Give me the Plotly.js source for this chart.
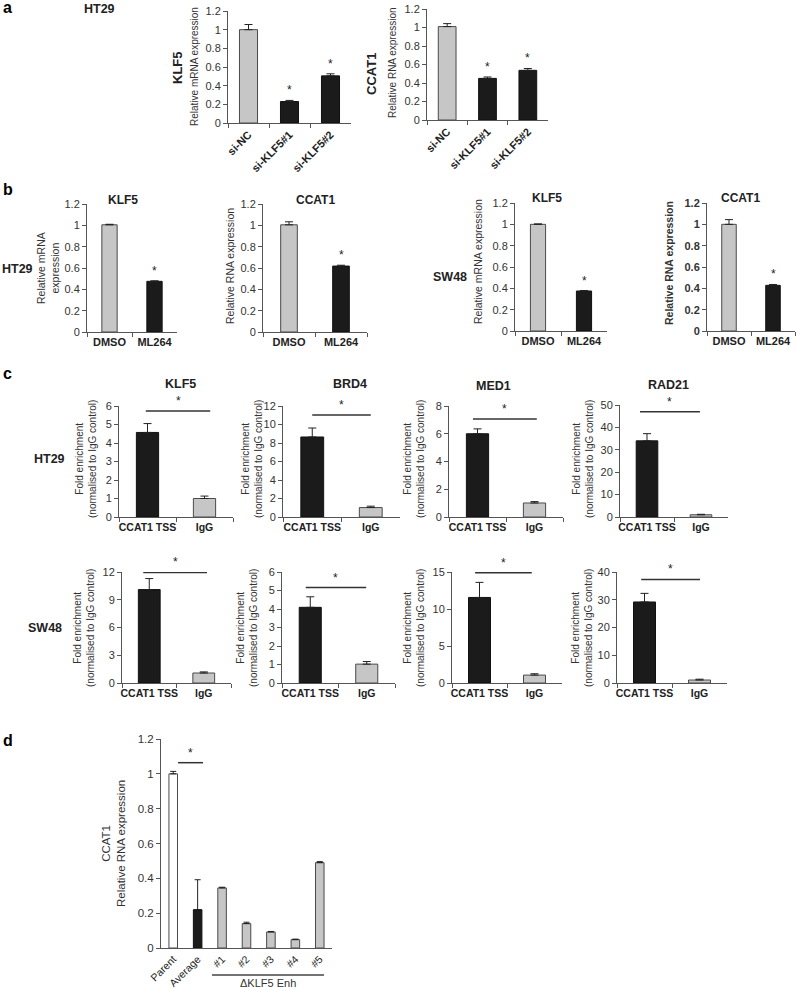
<!DOCTYPE html>
<html><head><meta charset="utf-8">
<script src="https://cdn.plot.ly/plotly-3.0.1.min.js"></script>
<style>html,body{margin:0;padding:0;background:#fff}#chart{width:796px;height:988px}</style>
</head><body><div id="chart"></div>
<script>
// ---------------- DATA ----------------
const aCats = ['si-NC', 'si-KLF5#1', 'si-KLF5#2'];
const aKLF5 = [1.0, 0.23, 0.505];
const aKLF5Err = [0.055, 0.012, 0.022];
const aCCAT1 = [1.01, 0.45, 0.537];
const aCCAT1Err = [0.032, 0.015, 0.02];

const bCats = ['DMSO', 'ML264'];
const bHT29KLF5 = [1.005, 0.475];
const bHT29KLF5Err = [0.005, 0.005];
const bHT29CCAT1 = [1.005, 0.618];
const bHT29CCAT1Err = [0.028, 0.008];
const bSW48KLF5 = [1.0, 0.375];
const bSW48KLF5Err = [0.004, 0.004];
const bSW48CCAT1 = [1.0, 0.428];
const bSW48CCAT1Err = [0.044, 0.008];

const cCats = ['CCAT1 TSS', 'IgG'];
const cHT29KLF5 = [4.57, 1.0];
const cHT29KLF5Err = [0.48, 0.13];
const cHT29BRD4 = [8.65, 1.02];
const cHT29BRD4Err = [0.97, 0.15];
const cHT29MED1 = [6.0, 1.01];
const cHT29MED1Err = [0.35, 0.1];
const cHT29RAD21 = [34.0, 1.0];
const cHT29RAD21Err = [3.2, 0.2];
const cSW48KLF5 = [10.1, 1.08];
const cSW48KLF5Err = [1.19, 0.12];
const cSW48BRD4 = [4.09, 1.02];
const cSW48BRD4Err = [0.57, 0.14];
const cSW48MED1 = [11.56, 1.07];
const cSW48MED1Err = [2.04, 0.18];
const cSW48RAD21 = [29.2, 1.07];
const cSW48RAD21Err = [3.1, 0.3];

const dCats = ['Parent', 'Average', '#1', '#2', '#3', '#4', '#5'];
const dCCAT1 = [1.0, 0.22, 0.345, 0.14, 0.092, 0.048, 0.49];
const dCCAT1Err = [0.014, 0.172, 0.004, 0.008, 0.003, 0.003, 0.006];

// ---------------- STYLE / LAYOUT ----------------
const W = 796, H = 988;
const G = '#c6c6c6', K = '#1b1b1b', WT = '#ffffff';
const FONT = 'Liberation Sans, Arial, Helvetica, sans-serif';

const panels = [
  // panel a
  {cats:aCats, vals:aKLF5, errs:aKLF5Err, colors:[G,K,K], px:[228,351], py:[11,123], range:[0,1.2], dtick:0.2, bw:0.44, cat:{size:11,bold:true,angle:-45}, stars:[0,1,1]},
  {cats:aCats, vals:aCCAT1, errs:aCCAT1Err, colors:[G,K,K], px:[427,548], py:[9,120], range:[0,1.2], dtick:0.2, bw:0.44, cat:{size:11,bold:true,angle:-45}, stars:[0,1,1]},
  // panel b
  {cats:bCats, vals:bHT29KLF5, errs:bHT29KLF5Err, colors:[G,K], px:[87,177], py:[204,332], range:[0,1.2], dtick:0.2, bw:0.34, cat:{size:11,bold:true,angle:0}, stars:[0,1]},
  {cats:bCats, vals:bHT29CCAT1, errs:bHT29CCAT1Err, colors:[G,K], px:[263,367], py:[204,332], range:[0,1.2], dtick:0.2, bw:0.32, cat:{size:11,bold:true,angle:0}, stars:[0,1]},
  {cats:bCats, vals:bSW48KLF5, errs:bSW48KLF5Err, colors:[G,K], px:[515,607], py:[203,331], range:[0,1.2], dtick:0.2, bw:0.33, cat:{size:11,bold:true,angle:0}, stars:[0,1]},
  {cats:bCats, vals:bSW48CCAT1, errs:bSW48CCAT1Err, colors:[G,K], px:[707,795], py:[203,331], range:[0,1.2], dtick:0.2, bw:0.33, cat:{size:11,bold:true,angle:0}, stars:[0,1], boldY:true},
  // panel c row HT29
  {cats:cCats, vals:cHT29KLF5, errs:cHT29KLF5Err, colors:[K,G], px:[119,233], py:[406,517], range:[0,6], dtick:1, bw:0.39, cat:{size:10.5,bold:true,angle:0}, sig:{x0:-0.03,x1:1.1,y:5.73}},
  {cats:cCats, vals:cHT29BRD4, errs:cHT29BRD4Err, colors:[K,G], px:[283,400], py:[406,517], range:[0,12], dtick:2, bw:0.39, cat:{size:10.5,bold:true,angle:0}, sig:{x0:0,x1:1.0,y:11.03}},
  {cats:cCats, vals:cHT29MED1, errs:cHT29MED1Err, colors:[K,G], px:[449,563], py:[406,517], range:[0,8], dtick:2, bw:0.39, cat:{size:10.5,bold:true,angle:0}, sig:{x0:-0.08,x1:1.04,y:7.06}},
  {cats:cCats, vals:cHT29RAD21, errs:cHT29RAD21Err, colors:[K,G], px:[620,728], py:[405,517], range:[0,50], dtick:10, bw:0.4, cat:{size:10.5,bold:true,angle:0}, sig:{x0:-0.13,x1:0.98,y:47}},
  // panel c row SW48
  {cats:cCats, vals:cSW48KLF5, errs:cSW48KLF5Err, colors:[K,G], px:[122,231], py:[572,683], range:[0,12], dtick:3, bw:0.4, cat:{size:10.5,bold:true,angle:0}, sig:{x0:-0.11,x1:1.06,y:11.95}},
  {cats:cCats, vals:cSW48BRD4, errs:cSW48BRD4Err, colors:[K,G], px:[282,395], py:[572,683], range:[0,6], dtick:1, bw:0.39, cat:{size:10.5,bold:true,angle:0}, sig:{x0:-0.08,x1:0.99,y:5.16}},
  {cats:cCats, vals:cSW48MED1, errs:cSW48MED1Err, colors:[K,G], px:[452,562], py:[572,683], range:[0,15], dtick:5, bw:0.4, cat:{size:10.5,bold:true,angle:0}, sig:{x0:-0.08,x1:0.95,y:14.9}},
  {cats:cCats, vals:cSW48RAD21, errs:cSW48RAD21Err, colors:[K,G], px:[617,727], py:[572,683], range:[0,40], dtick:10, bw:0.4, cat:{size:10.5,bold:true,angle:0}, sig:{x0:-0.06,x1:1.01,y:37.3}},
  // panel d
  {cats:dCats, vals:dCCAT1, errs:dCCAT1Err, colors:[WT,K,G,G,G,G,G], px:[161,332], py:[739,948], range:[0,1.2], dtick:0.2, bw:0.35, cat:{size:10.5,bold:false,angle:-45}, sig:{x0:0.2,x1:1.22,y:1.064}, noXTicks:true, ew:3, tick:11.5}
];

const traces = [];
const layout = {
  width: W, height: H,
  margin: {l:0, r:0, t:0, b:0},
  paper_bgcolor: '#fff', plot_bgcolor: 'rgba(0,0,0,0)',
  showlegend: false,
  font: {family: FONT, color: '#222'},
  annotations: [], shapes: [],
  bargap: 0
};

panels.forEach((p, i) => {
  const n = i + 1;
  const xa = n === 1 ? 'x' : 'x' + n;
  const ya = n === 1 ? 'y' : 'y' + n;
  const xk = n === 1 ? 'xaxis' : 'xaxis' + n;
  const yk = n === 1 ? 'yaxis' : 'yaxis' + n;
  traces.push({
    type: 'bar', x: p.cats, y: p.vals, xaxis: xa, yaxis: ya, width: p.bw,
    marker: {color: p.colors, line: {color: p.colors.map(c => c === K ? '#111' : '#4a4a4a'), width: 1}},
    error_y: {type: 'data', symmetric: false, array: p.errs, arrayminus: p.errs.map(() => 0),
              color: '#222', thickness: 1, width: p.ew || 4},
    hoverinfo: 'skip'
  });
  layout[xk] = {
    domain: [p.px[0] / W, p.px[1] / W], anchor: ya, type: 'category',
    showline: true, linecolor: '#555', linewidth: 1,
    ticks: p.noXTicks ? '' : 'outside', tickson: 'boundaries', ticklen: 4, tickcolor: '#555',
    tickangle: p.cat.angle,
    tickfont: {size: p.cat.size, weight: p.cat.bold ? 'bold' : 'normal', color: '#222', family: FONT},
    showgrid: false, zeroline: false, fixedrange: true
  };
  layout[yk] = {
    domain: [1 - p.py[1] / H, 1 - p.py[0] / H], anchor: xa,
    range: p.range, dtick: p.dtick, tick0: 0,
    showline: true, linecolor: '#555', linewidth: 1,
    ticks: 'outside', ticklen: 4, tickcolor: '#555',
    tickfont: {size: p.tick || 11, color: '#333', weight: p.boldY ? 'bold' : 'normal', family: FONT},
    showgrid: false, zeroline: false, fixedrange: true
  };
  if (p.stars) {
    p.stars.forEach((s, j) => {
      if (s) layout.annotations.push({xref: xa, yref: ya, x: j, y: p.vals[j] + p.errs[j],
        yanchor: 'bottom', xanchor: 'center', showarrow: false, text: '*', yshift: 1,
        font: {size: 12, color: '#222'}});
    });
  }
  if (p.sig) {
    layout.shapes.push({type: 'line', xref: xa, yref: ya, x0: p.sig.x0, x1: p.sig.x1,
      y0: p.sig.y, y1: p.sig.y, line: {color: '#333', width: 1.5}});
    layout.annotations.push({xref: xa, yref: ya, x: (p.sig.x0 + p.sig.x1) / 2, y: p.sig.y,
      yanchor: 'bottom', xanchor: 'center', showarrow: false, text: '*', yshift: 1,
      font: {size: 12, color: '#222'}});
  }
});

// text labels (paper pixel positions)
function lab(text, x, y, size, opts) {
  opts = opts || {};
  layout.annotations.push({
    xref: 'paper', yref: 'paper', x: x / W, y: 1 - y / H,
    xanchor: opts.xanchor || 'center', yanchor: 'middle',
    text: opts.bold ? '<b>' + text + '</b>' : text,
    textangle: opts.angle || 0, showarrow: false,
    font: {size: size, color: opts.color || '#222', family: FONT}
  });
}
// panel letters
lab('a', 1, 8, 16, {bold: true, xanchor: 'left', color: '#000'});
lab('b', 1, 190, 16, {bold: true, xanchor: 'left', color: '#000'});
lab('c', 1, 374, 16, {bold: true, xanchor: 'left', color: '#000'});
lab('d', 1, 740, 16, {bold: true, xanchor: 'left', color: '#000'});
// panel a
lab('HT29', 100, 9, 12.5, {bold: true});
lab('KLF5', 178, 68, 13, {bold: true, angle: -90});
lab('Relative mRNA expression', 195, 67, 10, {angle: -90, color: '#333'});
lab('CCAT1', 372, 74, 13, {bold: true, angle: -90});
lab('Relative RNA expression', 392, 63, 10, {angle: -90, color: '#333'});
// panel b
lab('HT29', 0, 269, 12.5, {bold: true, xanchor: 'left'});
lab('KLF5', 123, 200, 12, {bold: true});
lab('Relative mRNA<br>expression', 48, 268, 10.5, {angle: -90, color: '#333'});
lab('CCAT1', 315, 200, 12, {bold: true});
lab('Relative RNA expression', 230, 266, 10.5, {angle: -90, color: '#333'});
lab('SW48', 450, 277, 12.5, {bold: true});
lab('KLF5', 547, 198, 12, {bold: true});
lab('Relative mRNA expression', 478, 262, 10.5, {angle: -90, color: '#333'});
lab('CCAT1', 740, 198, 12, {bold: true});
lab('Relative RNA expression', 669, 263, 10.5, {angle: -90, bold: true, color: '#333'});
// panel c
lab('KLF5', 180, 384, 12.5, {bold: true});
lab('BRD4', 350, 384, 12.5, {bold: true});
lab('MED1', 493, 386, 12.5, {bold: true});
lab('RAD21', 668, 385, 12.5, {bold: true});
lab('HT29', 50, 459, 12.5, {bold: true});
lab('SW48', 45, 628, 12.5, {bold: true});
const fe = 'Fold enrichment<br>(normalised to IgG control)';
[[86,459],[252,459],[414,459],[583,459],[84,628],[247,628],[414,628],[582,628]].forEach(q =>
  lab(fe, q[0], q[1], 10, {angle: -90, color: '#333'}));
// panel d
lab('CCAT1<br>Relative RNA expression', 113, 844, 11.5, {angle: -90, color: '#333'});
lab('ΔKLF5 Enh', 268, 983, 11, {color: '#333'});
layout.shapes.push({type: 'line', xref: 'paper', yref: 'paper', x0: 212 / W, x1: 324 / W,
  y0: 1 - 975 / H, y1: 1 - 975 / H, line: {color: '#444', width: 1.5}});

Plotly.newPlot('chart', traces, layout, {staticPlot: true, displayModeBar: false});
</script>
</body></html>
